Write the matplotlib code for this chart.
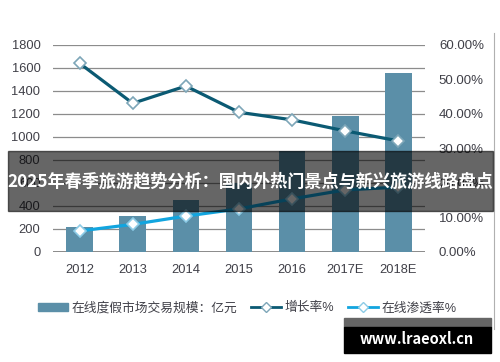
import matplotlib
matplotlib.use("Agg")
import matplotlib.pyplot as plt
from matplotlib.patches import Rectangle
from matplotlib.lines import Line2D
import numpy as np

plt.rcParams['font.family'] = ['Liberation Sans', 'Noto Sans CJK SC']

# data
years = ["2012", "2013", "2014", "2015", "2016", "2017E", "2018E"]
market_size = [218, 312, 452, 600, 875, 1182, 1555]          # 亿元
growth_rate = [0.547, 0.431, 0.481, 0.405, 0.383, 0.351, 0.322]
penetration = [0.061, 0.080, 0.104, 0.125, 0.154, 0.180, 0.188]

bar_label = "在线度假市场交易规模：亿元"
growth_label = "增长率%"
pen_label = "在线渗透率%"
banner_text = "2025年春季旅游趋势分析：国内外热门景点与新兴旅游线路盘点"
watermark = "www.lraeoxl.cn"

bar_color = "#5b8fa8"
growth_color = "#0b5a73"
pen_color = "#12a5df"
text_color = "#404048"

fig = plt.figure(figsize=(5, 3.62), dpi=100)
ax = fig.add_axes([0.106, 0.3039, 0.744, 0.5718])
ax2 = ax.twinx()

x = np.arange(len(years))
ax.bar(x, market_size, width=0.5, color=bar_color, zorder=2)
ax.set_ylim(0, 1800)
ax.set_yticks(range(0, 1801, 200))
ax.set_xlim(-0.5, len(years) - 0.5)
ax.set_xticks(x)
ax.set_xticklabels(years)
ax.grid(axis="y", color="#8c8c8c", linewidth=0.9, zorder=0)
ax.set_axisbelow(True)
for sp in ax.spines.values():
    sp.set_visible(False)
for sp in ax2.spines.values():
    sp.set_visible(False)
ax.axhline(0, color="#7a7a7a", linewidth=1.2, zorder=1)
ax.tick_params(length=0, labelsize=9.3, colors=text_color)
ax.tick_params(axis="y", pad=9)
ax.tick_params(axis="x", pad=9)

ax2.plot(x, growth_rate, color=growth_color, linewidth=2.3, marker="D",
         markersize=6.5, markerfacecolor="white", markeredgecolor="#7da6b8",
         markeredgewidth=1.2, zorder=3)
ax2.plot(x, penetration, color=pen_color, linewidth=2.3, marker="D",
         markersize=6.5, markerfacecolor="white", markeredgecolor="#8ccbe6",
         markeredgewidth=1.2, zorder=3)
ax2.set_ylim(0, 0.6)
ax2.set_yticks(np.arange(0, 0.61, 0.1))
ax2.set_yticklabels(["%.2f%%" % (v * 100) for v in np.arange(0, 0.61, 0.1)])
ax2.tick_params(length=0, labelsize=9.5, colors=text_color, pad=10)

handles = [
    Rectangle((0, 0), 1, 1, color=bar_color),
    Line2D([], [], color=growth_color, linewidth=2, marker="D", markersize=5,
           markerfacecolor="white", markeredgecolor="#7da6b8"),
    Line2D([], [], color=pen_color, linewidth=2, marker="D", markersize=5,
           markerfacecolor="white", markeredgecolor="#8ccbe6"),
]
fig.legend(handles, [bar_label, growth_label, pen_label], loc="center",
           bbox_to_anchor=(0.495, 0.149), ncol=3, frameon=False,
           fontsize=9.2, handlelength=2.3, handleheight=0.55,
           columnspacing=1.1, handletextpad=0.3, labelcolor=text_color)

# right border of the original chart frame
fig.add_artist(Line2D([0.987, 0.987], [0.09, 0.91], color="#b0b0b0",
                      linewidth=0.8))

# dark banner with title
fig.add_artist(Rectangle((0.016, 1 - 211 / 362), 0.97, 60 / 362,
                         transform=fig.transFigure, color="black",
                         alpha=0.6, zorder=10))
fig.text(0.5, 1 - 181 / 362, banner_text, ha="center", va="center",
         color="white", fontsize=12.35, fontweight="bold",
         family=["Noto Sans CJK SC"], zorder=11)

# watermark box
fig.add_artist(Rectangle((344 / 500, 1 - 327 / 362), 147 / 500, 9 / 362,
                         transform=fig.transFigure, color="#666666", zorder=10))
fig.add_artist(Rectangle((344 / 500, 1 - 353 / 362), 147 / 500, 26 / 362,
                         transform=fig.transFigure, color="black", zorder=10))
fig.text(417 / 500, 1 - 339 / 362, watermark, ha="center", va="center",
         color="white", fontsize=10.5, fontweight="bold",
         family=["Noto Sans CJK SC"], zorder=11)

fig.savefig("out.png", dpi=100)
